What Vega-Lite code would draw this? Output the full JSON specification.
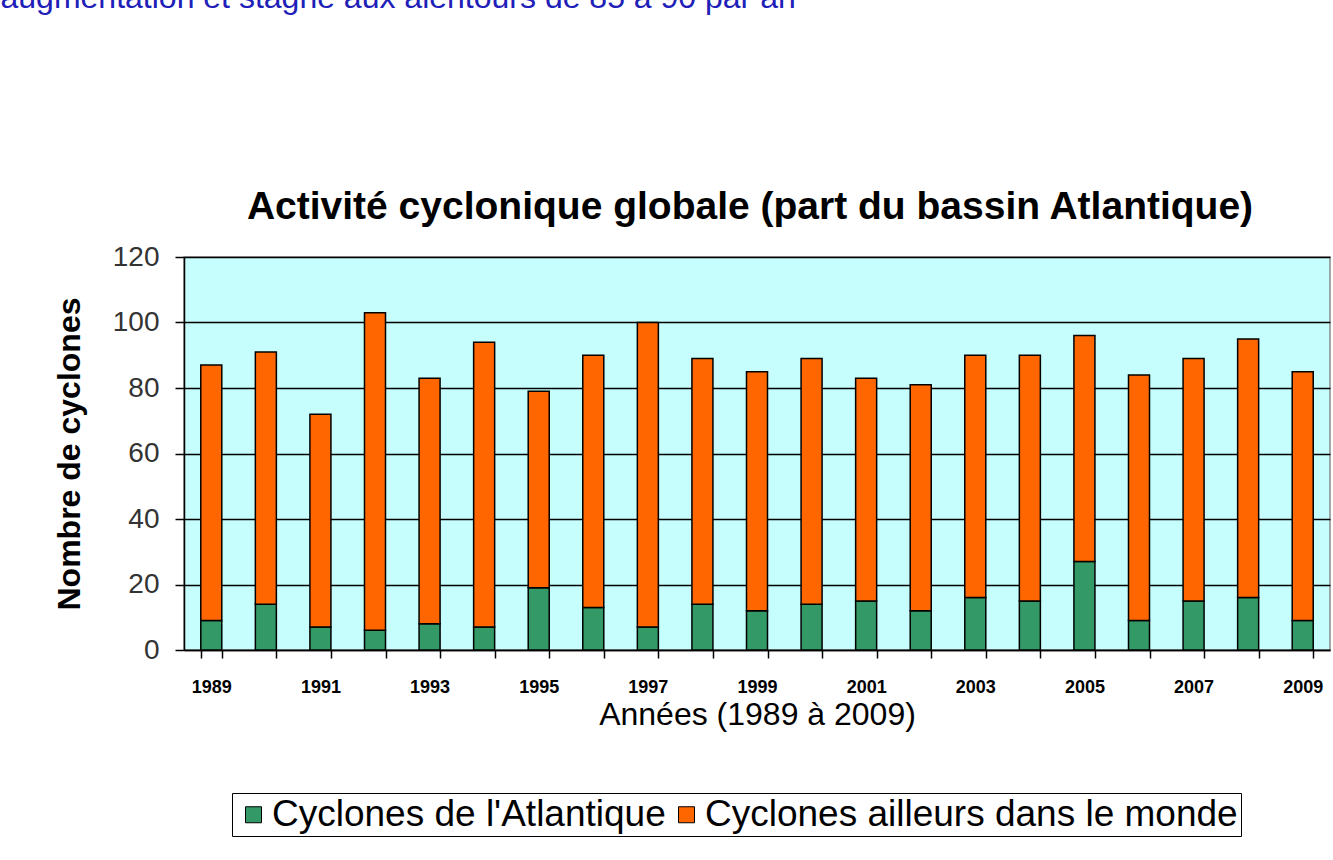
{
  "$schema": "https://vega.github.io/schema/vega-lite/v6.json",
  "width": 1146,
  "height": 393,
  "autosize": "none",
  "padding": {"left": 184, "top": 257, "right": 3, "bottom": 210},
  "background": "white",
  "config": {
    "font": "Liberation Sans",
    "view": {"fill": "#c6fdfd", "stroke": "#8a8a8a", "strokeWidth": 1.5}
  },
  "title": {
    "text": "Activité cyclonique globale (part du bassin Atlantique)",
    "fontSize": 39,
    "fontWeight": "bold",
    "color": "black",
    "anchor": "middle",
    "dx": -7,
    "offset": -246
  },
  "data": {
    "values": [
      {"annee": 1989, "serie": "Cyclones de l'Atlantique", "nombre": 9},
      {"annee": 1989, "serie": "Cyclones ailleurs dans le monde", "nombre": 78},
      {"annee": 1990, "serie": "Cyclones de l'Atlantique", "nombre": 14},
      {"annee": 1990, "serie": "Cyclones ailleurs dans le monde", "nombre": 77},
      {"annee": 1991, "serie": "Cyclones de l'Atlantique", "nombre": 7},
      {"annee": 1991, "serie": "Cyclones ailleurs dans le monde", "nombre": 65},
      {"annee": 1992, "serie": "Cyclones de l'Atlantique", "nombre": 6},
      {"annee": 1992, "serie": "Cyclones ailleurs dans le monde", "nombre": 97},
      {"annee": 1993, "serie": "Cyclones de l'Atlantique", "nombre": 8},
      {"annee": 1993, "serie": "Cyclones ailleurs dans le monde", "nombre": 75},
      {"annee": 1994, "serie": "Cyclones de l'Atlantique", "nombre": 7},
      {"annee": 1994, "serie": "Cyclones ailleurs dans le monde", "nombre": 87},
      {"annee": 1995, "serie": "Cyclones de l'Atlantique", "nombre": 19},
      {"annee": 1995, "serie": "Cyclones ailleurs dans le monde", "nombre": 60},
      {"annee": 1996, "serie": "Cyclones de l'Atlantique", "nombre": 13},
      {"annee": 1996, "serie": "Cyclones ailleurs dans le monde", "nombre": 77},
      {"annee": 1997, "serie": "Cyclones de l'Atlantique", "nombre": 7},
      {"annee": 1997, "serie": "Cyclones ailleurs dans le monde", "nombre": 93},
      {"annee": 1998, "serie": "Cyclones de l'Atlantique", "nombre": 14},
      {"annee": 1998, "serie": "Cyclones ailleurs dans le monde", "nombre": 75},
      {"annee": 1999, "serie": "Cyclones de l'Atlantique", "nombre": 12},
      {"annee": 1999, "serie": "Cyclones ailleurs dans le monde", "nombre": 73},
      {"annee": 2000, "serie": "Cyclones de l'Atlantique", "nombre": 14},
      {"annee": 2000, "serie": "Cyclones ailleurs dans le monde", "nombre": 75},
      {"annee": 2001, "serie": "Cyclones de l'Atlantique", "nombre": 15},
      {"annee": 2001, "serie": "Cyclones ailleurs dans le monde", "nombre": 68},
      {"annee": 2002, "serie": "Cyclones de l'Atlantique", "nombre": 12},
      {"annee": 2002, "serie": "Cyclones ailleurs dans le monde", "nombre": 69},
      {"annee": 2003, "serie": "Cyclones de l'Atlantique", "nombre": 16},
      {"annee": 2003, "serie": "Cyclones ailleurs dans le monde", "nombre": 74},
      {"annee": 2004, "serie": "Cyclones de l'Atlantique", "nombre": 15},
      {"annee": 2004, "serie": "Cyclones ailleurs dans le monde", "nombre": 75},
      {"annee": 2005, "serie": "Cyclones de l'Atlantique", "nombre": 27},
      {"annee": 2005, "serie": "Cyclones ailleurs dans le monde", "nombre": 69},
      {"annee": 2006, "serie": "Cyclones de l'Atlantique", "nombre": 9},
      {"annee": 2006, "serie": "Cyclones ailleurs dans le monde", "nombre": 75},
      {"annee": 2007, "serie": "Cyclones de l'Atlantique", "nombre": 15},
      {"annee": 2007, "serie": "Cyclones ailleurs dans le monde", "nombre": 74},
      {"annee": 2008, "serie": "Cyclones de l'Atlantique", "nombre": 16},
      {"annee": 2008, "serie": "Cyclones ailleurs dans le monde", "nombre": 79},
      {"annee": 2009, "serie": "Cyclones de l'Atlantique", "nombre": 9},
      {"annee": 2009, "serie": "Cyclones ailleurs dans le monde", "nombre": 76}
    ]
  },
  "layer": [
    {
      "mark": {"type": "bar", "stroke": "black", "strokeWidth": 1.5},
      "encoding": {
        "x": {
          "field": "annee",
          "type": "ordinal",
          "scale": {"paddingInner": 0.615, "paddingOuter": 0.3075},
          "axis": {
            "orient": "bottom",
            "title": "Années (1989 à 2009)",
            "labelExpr": "datum.value % 2 == 1 ? datum.label : ''",
            "labelAngle": 0,
            "labelFontSize": 18,
            "labelFontWeight": "bold",
            "labelColor": "black",
            "labelPadding": 20,
            "tickBand": "extent",
            "tickSize": 8,
            "tickColor": "black",
            "tickWidth": 1.5,
            "domainColor": "black",
            "domainWidth": 1.5,
            "titleFontSize": 32,
            "titleFontWeight": "normal",
            "titleColor": "black",
            "titlePadding": 3
          }
        },
        "y": {
          "field": "nombre",
          "type": "quantitative",
          "stack": "zero",
          "scale": {"domain": [0, 120]},
          "axis": {
            "values": [0, 20, 40, 60, 80, 100, 120],
            "title": "Nombre de cyclones",
            "titleFontSize": 32,
            "titleFontWeight": "bold",
            "titleColor": "black",
            "titlePadding": 26,
            "labelFontSize": 28,
            "labelColor": "#333333",
            "labelPadding": 16,
            "tickSize": 9,
            "tickColor": "black",
            "tickWidth": 1.5,
            "domainColor": "black",
            "domainWidth": 1.5,
            "gridColor": "black",
            "gridWidth": 1.5,
            "gridOpacity": 1
          }
        },
        "color": {
          "field": "serie",
          "type": "nominal",
          "scale": {
            "domain": ["Cyclones de l'Atlantique", "Cyclones ailleurs dans le monde"],
            "range": ["#339966", "#ff6600"]
          },
          "legend": {
            "orient": "none",
            "legendX": 48,
            "legendY": 536,
            "direction": "horizontal",
            "title": null,
            "strokeColor": "black",
            "fillColor": "white",
            "padding": 3,
            "labelFontSize": 37,
            "labelLimit": 0,
            "labelColor": "black",
            "labelOffset": 0,
            "symbolType": "square",
            "symbolSize": 256,
            "symbolStrokeColor": "black",
            "symbolStrokeWidth": 1,
            "symbolOpacity": 1,
            "columnPadding": 2
          }
        },
        "order": {"field": "serie", "sort": "descending"}
      }
    },
    {
      "transform": [{"filter": "datum.annee == 1989"}],
      "mark": {"type": "tick", "opacity": 0},
      "encoding": {
        "y": {
          "field": "nombre",
          "type": "quantitative",
          "axis": {
            "orient": "right",
            "domain": false,
            "ticks": false,
            "labels": false,
            "grid": false,
            "title": "augmentation et stagne aux alentours de 85 à 90 par an",
            "titleAngle": 0,
            "titleX": -1330,
            "titleY": -250,
            "titleAlign": "left",
            "titleBaseline": "alphabetic",
            "titleFontSize": 32,
            "titleFontWeight": "normal",
            "titleColor": "#2020b8"
          }
        }
      }
    }
  ],
  "resolve": {"axis": {"y": "independent"}}
}
